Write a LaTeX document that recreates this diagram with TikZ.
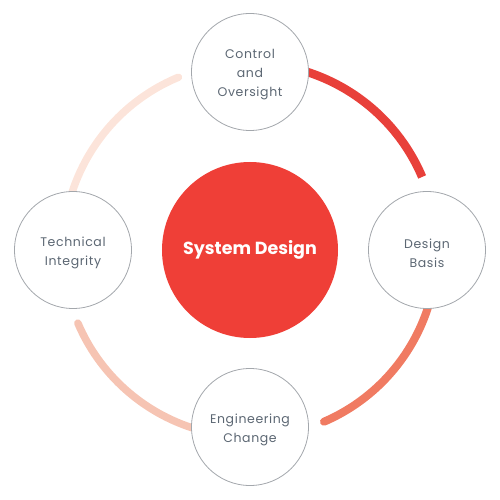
\documentclass[tikz,border=0pt]{standalone}
\usepackage{fontspec}
\newfontfamily\lblfont[LetterSpace=5]{Poppins}
\newfontfamily\ttlfont{Poppins}
\definecolor{mainred}{HTML}{EF3F37}
\definecolor{arcA}{HTML}{E8403A}
\definecolor{arcB}{HTML}{F07B62}
\definecolor{arcC}{HTML}{F6C4B3}
\definecolor{arcD}{HTML}{FCE4DA}
\definecolor{lblgray}{HTML}{5C6773}
\definecolor{ringgray}{HTML}{A3A7AC}
\begin{document}
\begin{tikzpicture}[x=1pt,y=1pt,
  stage/.style={circle,draw=ringgray,line width=0.8pt,fill=white,minimum size=117pt,inner sep=0pt},
  stagetext/.style={align=center,text=lblgray,inner sep=0pt,yshift=-3pt,
    font=\lblfont\fontsize{12.5}{19}\selectfont},
  hub/.style={circle,fill=mainred,minimum size=176pt,inner sep=0pt,text=white,
    font=\ttlfont\bfseries\fontsize{17.5}{20}\selectfont},
  flow/.style={line width=8.5pt}]
\useasboundingbox (-250,-250) rectangle (250,250);
% arcs
\draw[flow,arcA,line cap=butt] (90:187) arc[start angle=90,end angle=23,radius=187];
\draw[flow,arcB,line cap=round,line width=8pt] (0:187) arc[start angle=0,end angle=-66.7,radius=187];
\draw[flow,arcC,line cap=round,line width=7.5pt] (-90:187) arc[start angle=-90,end angle=-157,radius=187];
\draw[flow,arcD,line cap=round,line width=7.5pt] (180:187) arc[start angle=180,end angle=112.5,radius=187];
% nodes
\node[hub] (hub) at (0,0) {System Design};
\node[stage,label={[stagetext]center:Control\\and\\Oversight}] (top) at (0,178) {};
\node[stage,label={[stagetext]center:Design\\Basis}] (right) at (177,0) {};
\node[stage,label={[stagetext]center:Engineering\\Change}] (bottom) at (0,-177) {};
\node[stage,label={[stagetext]center:Technical\\Integrity}] (left) at (-177,0) {};
\end{tikzpicture}
\end{document}
